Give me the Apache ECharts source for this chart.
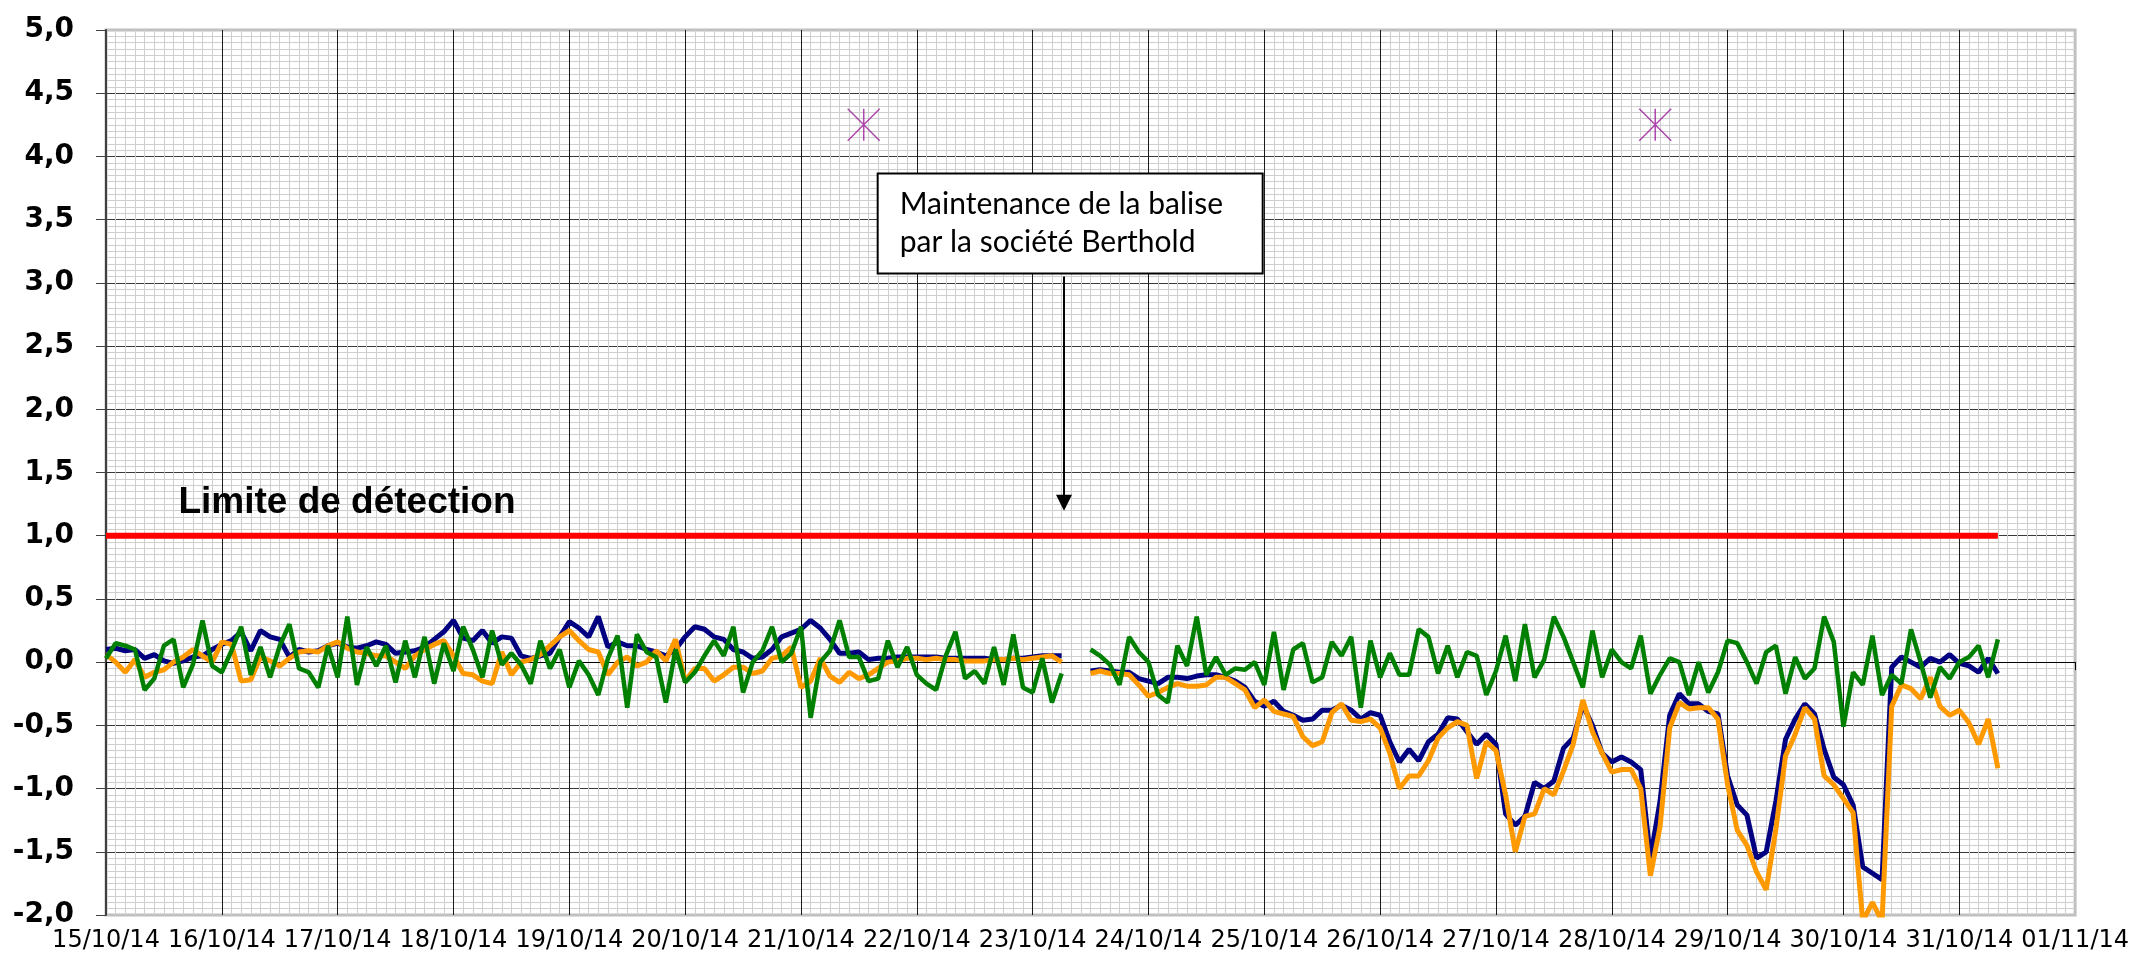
<!DOCTYPE html>
<html><head><meta charset="utf-8">
<script src="https://cdn.jsdelivr.net/npm/echarts@6/dist/echarts.min.js"></script>
<style>html,body{margin:0;padding:0;background:#fff}#c{width:2132px;height:960px}</style>
</head><body><div id="c"></div>
<script>
// ---- tick labels (one per day) ----
const tickLabels = ['15/10/14','16/10/14','17/10/14','18/10/14','19/10/14','20/10/14','21/10/14','22/10/14','23/10/14','24/10/14','25/10/14','26/10/14','27/10/14','28/10/14','29/10/14','30/10/14','31/10/14','01/11/14'];
// ---- measurements every 2 hours from 15/10/14 00:00 ----
const stepHours = 2;
const navy = [
 0.10, 0.11, 0.09, 0.10, 0.03, 0.06, 0.01,-0.01, 0.01, 0.04, 0.05, 0.10,
 0.14, 0.17, 0.24, 0.09, 0.25, 0.20, 0.18, 0.04, 0.10, 0.08, 0.09, 0.13,
 0.15, 0.12, 0.11, 0.13, 0.16, 0.14, 0.07, 0.08, 0.09, 0.12, 0.18, 0.24,
 0.33, 0.19, 0.17, 0.25, 0.15, 0.20, 0.19, 0.05, 0.03, 0.05, 0.07, 0.20,
 0.32, 0.27, 0.20, 0.36, 0.12, 0.16, 0.13, 0.13, 0.10, 0.08, 0.05, 0.10,
 0.20, 0.28, 0.26, 0.20, 0.18, 0.10, 0.08, 0.03, 0.04, 0.10, 0.20, 0.23,
 0.26, 0.33, 0.27, 0.18, 0.07, 0.07, 0.08, 0.02, 0.03, 0.03, 0.04, 0.04,
 0.04, 0.04, 0.04, 0.03, 0.03, 0.03, 0.03, 0.03, 0.02, 0.02, 0.03, 0.03,
 0.04, 0.05, 0.05, 0.05, null, null,-0.07,-0.06,-0.07,-0.08,-0.08,-0.13,
-0.15,-0.17,-0.12,-0.12,-0.13,-0.11,-0.10,-0.10,-0.12,-0.15,-0.20,-0.31,
-0.35,-0.31,-0.39,-0.42,-0.46,-0.45,-0.38,-0.38,-0.34,-0.38,-0.45,-0.40,
-0.42,-0.63,-0.79,-0.69,-0.78,-0.63,-0.57,-0.44,-0.45,-0.55,-0.65,-0.57,
-0.65,-1.20,-1.29,-1.22,-0.95,-1.00,-0.94,-0.68,-0.60,-0.34,-0.50,-0.72,
-0.79,-0.75,-0.79,-0.85,-1.55,-1.10,-0.42,-0.25,-0.33,-0.33,-0.39,-0.41,
-0.90,-1.13,-1.21,-1.55,-1.50,-1.10,-0.61,-0.45,-0.33,-0.41,-0.69,-0.91,
-0.97,-1.13,-1.62,-1.67,-1.72,-0.04, 0.04, 0.00,-0.04, 0.03, 0.00, 0.06,
-0.01,-0.03,-0.08, 0.03,-0.09
];
const orange = [
 0.06, 0.00,-0.08, 0.02,-0.12,-0.08,-0.06, 0.00, 0.04, 0.10, 0.05, 0.00,
 0.16, 0.14,-0.15,-0.14, 0.04, 0.01,-0.03, 0.03, 0.08, 0.09, 0.08, 0.13,
 0.16, 0.11, 0.08, 0.07, 0.05, 0.05, 0.00,-0.05, 0.05, 0.10, 0.14, 0.17,
 0.05,-0.09,-0.10,-0.15,-0.17, 0.08,-0.10, 0.00, 0.02, 0.06, 0.13, 0.20,
 0.25, 0.17, 0.10, 0.08,-0.10, 0.00, 0.04,-0.03, 0.00, 0.09, 0.01, 0.18,
-0.15,-0.05,-0.05,-0.15,-0.10,-0.04,-0.04,-0.09,-0.07, 0.03, 0.05, 0.12,
-0.20,-0.15, 0.03,-0.11,-0.16,-0.08,-0.13,-0.10,-0.05, 0.00, 0.01, 0.03,
 0.03, 0.02, 0.03, 0.02, 0.02, 0.01, 0.01, 0.01, 0.02, 0.02, 0.03, 0.02,
 0.03, 0.04, 0.05, 0.00, null, null,-0.09,-0.07,-0.09,-0.09,-0.10,-0.18,
-0.27,-0.24,-0.20,-0.17,-0.19,-0.19,-0.18,-0.12,-0.12,-0.17,-0.22,-0.36,
-0.30,-0.39,-0.41,-0.43,-0.59,-0.66,-0.63,-0.40,-0.33,-0.46,-0.47,-0.45,
-0.52,-0.72,-1.00,-0.90,-0.90,-0.78,-0.60,-0.52,-0.47,-0.50,-0.92,-0.63,
-0.70,-1.05,-1.50,-1.22,-1.20,-1.00,-1.05,-0.86,-0.65,-0.30,-0.55,-0.72,
-0.87,-0.85,-0.85,-1.00,-1.69,-1.30,-0.52,-0.32,-0.37,-0.36,-0.36,-0.45,
-0.97,-1.33,-1.45,-1.66,-1.80,-1.32,-0.74,-0.57,-0.36,-0.45,-0.90,-0.97,
-1.08,-1.19,-2.05,-1.90,-2.05,-0.35,-0.18,-0.21,-0.29,-0.12,-0.35,-0.42,
-0.38,-0.48,-0.65,-0.45,-0.84
];
const green = [
 0.03, 0.15, 0.13, 0.10,-0.22,-0.13, 0.13, 0.18,-0.20,-0.02, 0.33,-0.03,
-0.08, 0.09, 0.28,-0.10, 0.12,-0.12, 0.13, 0.30,-0.05,-0.08,-0.20, 0.13,
-0.12, 0.36,-0.18, 0.12,-0.03, 0.13,-0.16, 0.17,-0.12, 0.20,-0.17, 0.15,
-0.07, 0.28, 0.10,-0.12, 0.25,-0.02, 0.07,-0.02,-0.17, 0.17,-0.05, 0.10,
-0.20, 0.01,-0.10,-0.26, 0.03, 0.21,-0.36, 0.22, 0.08, 0.04,-0.32, 0.10,
-0.16,-0.08, 0.05, 0.17, 0.05, 0.28,-0.24, 0.00, 0.09, 0.28, 0.00, 0.07,
 0.28,-0.44, 0.00, 0.09, 0.33, 0.04, 0.04,-0.15,-0.13, 0.17,-0.04, 0.12,
-0.10,-0.17,-0.22, 0.05, 0.24,-0.13,-0.07,-0.17, 0.12,-0.18, 0.22,-0.20,
-0.24, 0.03,-0.32,-0.09, null, null, 0.10, 0.05,-0.02,-0.18, 0.20, 0.08,
 0.00,-0.26,-0.32, 0.13,-0.03, 0.36,-0.10, 0.04,-0.10,-0.05,-0.06, 0.00,
-0.18, 0.24,-0.22, 0.10, 0.15,-0.16,-0.12, 0.16, 0.05, 0.20,-0.36, 0.17,
-0.12, 0.07,-0.10,-0.10, 0.26, 0.20,-0.09, 0.13,-0.12, 0.08, 0.05,-0.26,
-0.07, 0.21,-0.15, 0.30,-0.12, 0.02, 0.36, 0.20, 0.00,-0.20, 0.25,-0.12,
 0.10, 0.00,-0.05, 0.21,-0.25,-0.10, 0.03, 0.00,-0.26, 0.00,-0.24,-0.08,
 0.17, 0.15, 0.00,-0.17, 0.08, 0.13,-0.25, 0.04,-0.13,-0.05, 0.36, 0.16,
-0.51,-0.08,-0.18, 0.21,-0.26,-0.10,-0.17, 0.26, 0.00,-0.28,-0.04,-0.13,
 0.00, 0.04, 0.13,-0.12, 0.18
];
// ---- detection limit and annotations ----
const detectionLimit = 1.0;
const detectionLabel = 'Limite de détection';
const markerHours = [157, 321];      // hours after 15/10/14 00:00
const markerValue = 4.25;
const noteText = 'Maintenance de la balise\npar la société Berthold';
const noteHour = 198.5;              // arrow points at the data gap
const noteArrowFrom = 3.05, noteArrowTo = 1.26;

const toPairs = arr => arr.map((v, i) => [i * stepHours, v]);
const lastHour = (navy.length - 1) * stepHours;
const yFmt = v => v.toFixed(1).replace('.', ',');

const chart = echarts.init(document.getElementById('c'), null, {renderer: 'canvas'});
const option = {
  animation: false,
  backgroundColor: '#ffffff',
  grid: {left: 106, right: 56, top: 30, bottom: 45, show: true, borderColor: '#c0c0c0', borderWidth: 3, backgroundColor: 'transparent'},
  xAxis: [{
    type: 'value', min: 0, max: 408, interval: 24, position: 'bottom',
    axisLine: {show: false, onZero: false},
    axisTick: {show: false},
    axisLabel: {show: true, margin: 14, fontFamily: 'DejaVu Sans', fontSize: 24, color: '#000',
      formatter: v => tickLabels[Math.round(v / 24)] || ''},
    splitLine: {show: true, showMinLine: false, showMaxLine: false, lineStyle: {color: '#1a1a1a', width: 1}},
    minorTick: {show: false, splitNumber: 12},
    minorSplitLine: {show: true, lineStyle: {color: '#cfcfcf', width: 1}}
  }, {
    type: 'value', min: 0, max: 408, interval: 24, position: 'top',
    axisLine: {show: true, onZero: true, lineStyle: {color: '#000', width: 1}},
    axisTick: {show: true, inside: true, length: 8, lineStyle: {color: '#000', width: 1}},
    axisLabel: {show: false},
    splitLine: {show: false}
  }],
  yAxis: {
    type: 'value', min: -2, max: 5, interval: 0.5,
    axisLine: {show: true, onZero: false, lineStyle: {color: '#404040', width: 2}},
    axisTick: {show: true, length: 10, lineStyle: {color: '#404040', width: 1}},
    axisLabel: {margin: 32, fontFamily: 'DejaVu Sans', fontWeight: 'bold', fontSize: 28, color: '#000', formatter: yFmt},
    splitLine: {show: true, showMinLine: false, showMaxLine: false, lineStyle: {color: '#3a3a3a', width: 1}},
    minorTick: {show: false, splitNumber: 10},
    minorSplitLine: {show: true, lineStyle: {color: '#cfcfcf', width: 1}}
  },
  series: [
    {
      name: 'limite', type: 'line', xAxisIndex: 0, symbol: 'none', silent: true,
      data: [[0, detectionLimit], [lastHour, detectionLimit]],
      lineStyle: {color: '#ff0000', width: 6},
      markPoint: {
        silent: true, symbol: 'rect', symbolSize: 1, itemStyle: {color: 'transparent'},
        data: [
          {coord: [15, 1.26], label: {show: true, position: 'inside', align: 'left', verticalAlign: 'middle',
            formatter: detectionLabel, fontFamily: 'Liberation Sans', fontWeight: 'bold', fontSize: 37, color: '#000'}},
          {coord: [160.1, 3.47], label: {show: true, position: 'inside', align: 'left', verticalAlign: 'middle',
            formatter: noteText, fontFamily: 'Lato', fontSize: 30, lineHeight: 38, color: '#000',
            backgroundColor: '#fff', borderColor: '#000', borderWidth: 2, padding: [11, 20, 11, 21], width: 342}}
        ]
      },
      markLine: {
        silent: true, symbol: ['none', 'triangle'], symbolSize: 16,
        label: {show: false},
        lineStyle: {color: '#000', width: 2, type: 'solid'},
        data: [[{coord: [noteHour, noteArrowFrom]}, {coord: [noteHour, noteArrowTo]}]]
      }
    },
    {name: 'navy', type: 'line', xAxisIndex: 0, data: toPairs(navy), showSymbol: false, symbol: 'none',
     connectNulls: false, lineStyle: {color: '#000080', width: 5}, itemStyle: {color: '#000080'}},
    {name: 'orange', type: 'line', xAxisIndex: 0, data: toPairs(orange), showSymbol: false, symbol: 'none',
     connectNulls: false, lineStyle: {color: '#ff9900', width: 5}, itemStyle: {color: '#ff9900'}},
    {name: 'green', type: 'line', xAxisIndex: 0, data: toPairs(green), showSymbol: false, symbol: 'none',
     connectNulls: false, lineStyle: {color: '#008000', width: 4.5}, itemStyle: {color: '#008000'}},
    {name: 'marqueurs', type: 'scatter', xAxisIndex: 0,
     data: markerHours.map(h => [h, markerValue]),
     symbol: 'path://M0,0L32,32M32,0L0,32M16,0L16,32', symbolSize: 32,
     itemStyle: {color: 'transparent', borderColor: '#9a1a9a', borderWidth: 1.5}}
  ]
};
chart.setOption(option);
</script></body></html>
